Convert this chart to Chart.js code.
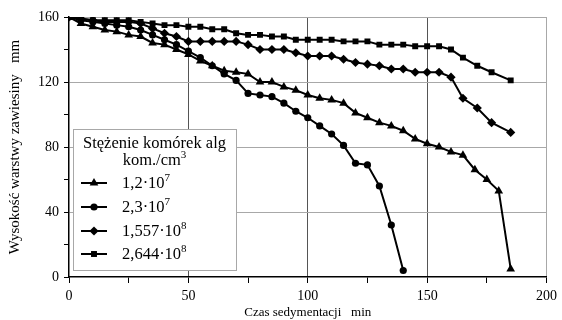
<!DOCTYPE html>
<html>
<head>
<meta charset="utf-8">
<script src="https://cdn.jsdelivr.net/npm/chart.js@4"></script>
<style>
  body { margin: 0; background: #fff; }
  #wrap { width: 562px; height: 320px; }
</style>
</head>
<body>
<div id="wrap"><canvas id="wykres" width="562" height="320"></canvas></div>
<script>
// Dane: czas [min] i wysokość warstwy [mm]
const czas12e7 = [0,5,10,15,20,25,30,35,40,45,50,55,60,65,70,75,80,85,90,95,100,105,110,115,120,125,130,135,140,145,150,155,160,165,170,175,180,185];
const wys12e7  = [160,156,154,152,151,149,148,144,143,140,137,133,130,127,126,125,120,120,117,115,112,110,109,107,101,98,95,93,90,85,82,80,77,75,66,60,53,5];

const czas23e7 = [0,5,10,15,20,25,30,35,40,45,50,55,60,65,70,75,80,85,90,95,100,105,110,115,120,125,130,135,140];
const wys23e7  = [160,158,157,156,155,154,152,149,146,143,139,135,130,125,121,113,112,111,107,102,98,93,88,81,70,69,56,32,4];

const czas1557e8 = [0,5,10,15,20,25,30,35,40,45,50,55,60,65,70,75,80,85,90,95,100,105,110,115,120,125,130,135,140,145,150,155,160,165,171,177,185];
const wys1557e8  = [160,159,158,157,157,157,156,153,150,148,145,145,145,145,145,143,140,140,140,138,136,136,136,134,132,131,130,128,128,126,126,126,123,110,104,95,89];

const czas2644e8 = [0,5,10,15,20,25,30,35,40,45,50,55,60,65,70,75,80,85,90,95,100,105,110,115,120,125,130,135,140,145,150,155,160,165,171,177,185];
const wys2644e8  = [160,159,158,158,158,158,157,156,155,155,154,154,152.5,152.5,150,149,149,148,148,146,146,146,146,145,145,145,143,143,143,142,142,142,140,135,130,126,121];

const legendaTytul = ['Stężenie komórek alg', 'kom./cm'];
const legendaTytulWyk = '3';
const etykietyPodstawa = ['1,2·10', '2,3·10', '1,557·10', '2,644·10'];
const etykietyWykladnik = ['7', '7', '8', '8'];

const czcionka = "'Liberation Serif', 'Times New Roman', serif";

function punkty(xs, ys) {
  return xs.map((x, i) => ({ x: x, y: ys[i] }));
}

function seria(idx, xs, ys, styl, r) {
  return {
    label: etykietyPodstawa[idx] + etykietyWykladnik[idx],
    data: punkty(xs, ys),
    borderColor: '#000',
    backgroundColor: '#000',
    borderWidth: 2,
    pointStyle: styl,
    pointRadius: r,
    pointBorderWidth: 0,
    tension: 0
  };
}

const datasets = [
  seria(0, czas12e7, wys12e7, 'triangle', 5),
  seria(1, czas23e7, wys23e7, 'circle', 3.6),
  seria(2, czas1557e8, wys1557e8, 'rectRot', 4.6),
  seria(3, czas2644e8, wys2644e8, 'rect', 4.2)
];

// Legenda rysowana wewnątrz obszaru wykresu
const legendaAlg = {
  id: 'legendaAlg',
  afterDraw(chart) {
    const ctx = chart.ctx;
    const bx = 73, by = 129, bw = 163, bh = 141;
    ctx.save();
    ctx.fillStyle = '#fff';
    ctx.fillRect(bx, by, bw, bh);
    ctx.strokeStyle = '#a8a8a8';
    ctx.lineWidth = 1;
    ctx.strokeRect(bx + 0.5, by + 0.5, bw, bh);

    ctx.fillStyle = '#000';
    ctx.textBaseline = 'middle';
    ctx.textAlign = 'center';
    ctx.font = '16.5px ' + czcionka;
    ctx.fillText(legendaTytul[0], bx + bw / 2, by + 15);
    const w2 = ctx.measureText(legendaTytul[1]).width;
    ctx.font = '11px ' + czcionka;
    const ws = ctx.measureText(legendaTytulWyk).width;
    const x2 = bx + bw / 2 - (w2 + ws) / 2;
    ctx.textAlign = 'left';
    ctx.font = '16.5px ' + czcionka;
    ctx.fillText(legendaTytul[1], x2, by + 32);
    ctx.font = '11px ' + czcionka;
    ctx.fillText(legendaTytulWyk, x2 + w2, by + 26);

    const ys = [183, 207, 231, 254];
    chart.data.datasets.forEach((ds, i) => {
      const y = ys[i];
      ctx.strokeStyle = '#000';
      ctx.lineWidth = 2;
      ctx.beginPath();
      ctx.moveTo(81, y);
      ctx.lineTo(107, y);
      ctx.stroke();
      ctx.fillStyle = '#000';
      Chart.helpers.drawPoint(ctx, { pointStyle: ds.pointStyle, radius: ds.pointRadius, rotation: 0, borderWidth: 0 }, 94, y);
      ctx.fillStyle = '#000';
      ctx.font = '16.5px ' + czcionka;
      ctx.fillText(etykietyPodstawa[i], 122, y + 1);
      const w = ctx.measureText(etykietyPodstawa[i]).width;
      ctx.font = '11px ' + czcionka;
      ctx.fillText(etykietyWykladnik[i], 122 + w, y - 5);
    });
    ctx.restore();
  }
};

new Chart(document.getElementById('wykres'), {
  type: 'line',
  data: { datasets: datasets },
  options: {
    responsive: false,
    animation: false,
    devicePixelRatio: 1,
    layout: { padding: { left: 0, top: 17, right: 13, bottom: 0 } },
    plugins: {
      legend: { display: false },
      tooltip: { enabled: false }
    },
    scales: {
      x: {
        type: 'linear',
        min: 0,
        max: 200,
        afterFit: s => { s.height = 43; },
        border: { display: true, color: '#000', width: 1.5 },
        grid: {
          color: c => {
            const v = c.tick.value;
            if (v === 200) return '#a8a8a8';
            if (v > 0 && v % 50 === 0) return '#555';
            return 'rgba(0,0,0,0)';
          },
          tickColor: '#000',
          tickLength: 6,
          lineWidth: 1
        },
        ticks: {
          stepSize: 25,
          autoSkip: false,
          maxRotation: 0,
          padding: 5,
          color: '#000',
          font: { family: czcionka, size: 14 },
          callback: v => (v % 50 === 0 ? v : '')
        },
        title: {
          display: true,
          text: 'Czas sedymentacji   min',
          color: '#000',
          font: { family: czcionka, size: 13 },
          padding: { top: 0, bottom: 0 }
        }
      },
      y: {
        min: 0,
        max: 160,
        afterFit: s => { s.width = 69; },
        border: { display: true, color: '#000', width: 1.5 },
        grid: {
          color: c => {
            const v = c.tick.value;
            if (v > 0 && v % 40 === 0) return '#a8a8a8';
            return 'rgba(0,0,0,0)';
          },
          tickColor: '#000',
          tickLength: 5,
          lineWidth: 1
        },
        ticks: {
          stepSize: 20,
          autoSkip: false,
          padding: 5,
          color: '#000',
          font: { family: czcionka, size: 14 },
          callback: v => (v % 40 === 0 ? v : '')
        },
        title: {
          display: true,
          text: 'Wysokość warstwy zawiesiny   mm',
          color: '#000',
          font: { family: czcionka, size: 15 },
          padding: { top: 6, bottom: 0 }
        }
      }
    }
  },
  plugins: [legendaAlg]
});
</script>
</body>
</html>
